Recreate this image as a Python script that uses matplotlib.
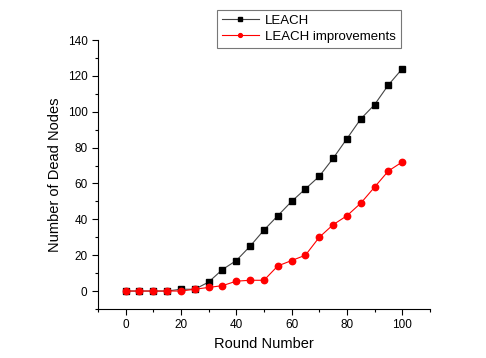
import matplotlib
matplotlib.use("Agg")
import matplotlib.pyplot as plt
from matplotlib.ticker import MultipleLocator

rounds = [0, 5, 10, 15, 20, 25, 30, 35, 40, 45, 50, 55, 60, 65, 70, 75, 80, 85, 90, 95, 100]
leach = [0, 0, 0, 0, 1, 1, 5, 12, 17, 25, 34, 42, 50, 57, 64, 74, 85, 96, 104, 115, 124]
leach_imp = [0, 0, 0, 0, 0, 1, 2, 3, 5.5, 6, 6, 14, 17, 20, 30, 37, 42, 49, 58, 67, 72]

plt.rcParams['font.family'] = ['Liberation Sans', 'DejaVu Sans']

fig = plt.figure(figsize=(4.86, 3.58), dpi=100)
ax = fig.add_axes([0.2016, 0.137, 0.683, 0.751])

ax.plot(rounds, leach, color='#444444', lw=0.8, marker='s', ms=4.3,
        mfc='black', mec='black', label='LEACH')
ax.plot(rounds, leach_imp, color='red', lw=0.8, marker='o', ms=4.6,
        mfc='red', mec='red', label='LEACH improvements')

ax.set_xlim(-10, 110)
ax.set_ylim(-10, 140)
ax.xaxis.set_major_locator(MultipleLocator(20))
ax.xaxis.set_minor_locator(MultipleLocator(10))
ax.yaxis.set_major_locator(MultipleLocator(20))
ax.yaxis.set_minor_locator(MultipleLocator(10))
ax.spines['top'].set_visible(False)
ax.spines['right'].set_visible(False)
ax.tick_params(which='major', direction='out', length=4, width=0.8, labelsize=8.5)
ax.tick_params(which='minor', direction='out', length=2.5, width=0.8)
ax.set_xlabel('Round Number', fontsize=10.5)
ax.set_ylabel('Number of Dead Nodes', fontsize=10.5)

leg = fig.legend(loc='upper left', bbox_to_anchor=(217/486, 1 - 10/358), fontsize=9.5,
                 frameon=True, fancybox=False, edgecolor='#555555', borderpad=0.35,
                 labelspacing=0.3, handlelength=2.8, handletextpad=0.5, borderaxespad=0,
                 markerscale=0.6)
leg.get_frame().set_linewidth(0.8)

fig.savefig('out.png', dpi=100)
